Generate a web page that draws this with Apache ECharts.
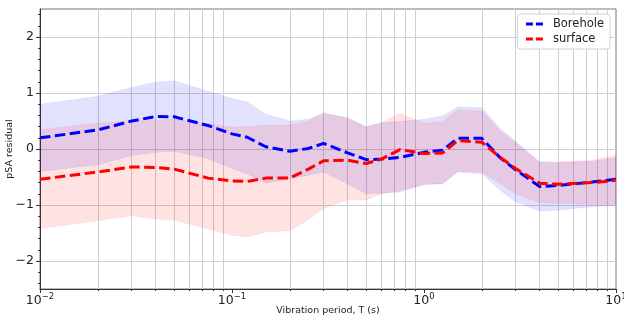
<!DOCTYPE html>
<html><head><meta charset="utf-8">
<script src="https://cdn.jsdelivr.net/npm/echarts@6/dist/echarts.min.js"></script>
<style>html,body{margin:0;padding:0;background:#fff}#c{width:624px;height:320px}</style>
</head><body><div id="c"></div>
<script>
// Vibration periods (s)
const periods = [0.01,0.02,0.03,0.04,0.05,0.075,0.1,0.12,0.15,0.2,0.25,0.3,0.4,0.5,0.6,0.75,1.0,1.25,1.5,2,2.5,3,4,5,7.5,10];
const boreholeMean  = [0.20,0.34,0.50,0.58,0.575,0.42,0.27,0.21,0.04,-0.04,0.01,0.10,-0.07,-0.19,-0.18,-0.15,-0.06,-0.02,0.19,0.19,-0.16,-0.37,-0.67,-0.65,-0.59,-0.54];
const boreholeUpper = [0.80,0.94,1.10,1.19,1.22,1.03,0.90,0.84,0.62,0.50,0.53,0.63,0.56,0.40,0.47,0.49,0.53,0.59,0.75,0.74,0.36,0.14,-0.23,-0.24,-0.22,-0.16];
const boreholeLower = [-0.40,-0.28,-0.12,-0.06,-0.04,-0.17,-0.35,-0.44,-0.61,-0.53,-0.47,-0.41,-0.62,-0.80,-0.79,-0.77,-0.64,-0.62,-0.41,-0.44,-0.74,-0.94,-1.11,-1.09,-1.03,-1.01];
const surfaceMean   = [-0.54,-0.41,-0.32,-0.33,-0.36,-0.52,-0.57,-0.58,-0.52,-0.52,-0.36,-0.21,-0.20,-0.26,-0.18,-0.01,-0.08,-0.07,0.15,0.12,-0.15,-0.35,-0.61,-0.63,-0.60,-0.56];
const surfaceUpper  = [0.35,0.46,0.50,0.52,0.53,0.45,0.39,0.40,0.43,0.43,0.50,0.65,0.55,0.39,0.47,0.64,0.46,0.49,0.70,0.68,0.32,0.11,-0.23,-0.23,-0.20,-0.11];
const surfaceLower  = [-1.42,-1.28,-1.19,-1.25,-1.27,-1.43,-1.54,-1.57,-1.48,-1.46,-1.27,-1.06,-0.91,-0.91,-0.80,-0.74,-0.63,-0.62,-0.40,-0.41,-0.62,-0.80,-0.96,-0.97,-0.99,-0.99];
const yTicks = [-2,-1,0,1,2];

const lx = periods.map(p => Math.log10(p));
const pair = arr => arr.map((v,i) => [lx[i], v]);
const minorX = [];
for (let d = -2; d < 1; d++) for (let k = 2; k <= 9; k++) minorX.push(d + Math.log10(k));
const minorY = [];
for (let i = -12; i <= 12; i++) minorY.push(i / 5);

const FONT = 'DejaVu Sans';
const minus = s => String(s).replace('-', '\u2212');
const BLUE = '#0000ff', RED = '#ff0000';

function band(name, upper, lower, fill, edge) {
  return {
    name: name, type: 'custom', silent: true, z: 1, clip: true,
    data: lx.map((x, i) => [x, lower[i], upper[i]]),
    encode: { x: 0, y: [1, 2] },
    renderItem: function (params, api) {
      if (params.dataIndex !== 0) return null;
      const n = lx.length;
      const pts = [];
      for (let i = 0; i < n; i++) pts.push(api.coord([api.value(0, i), api.value(2, i)]));
      for (let i = n - 1; i >= 0; i--) pts.push(api.coord([api.value(0, i), api.value(1, i)]));
      return { type: 'polygon', shape: { points: pts }, style: { fill: fill, stroke: edge, lineWidth: 0.8 } };
    }
  };
}

const chart = echarts.init(document.getElementById('c'), null, { renderer: 'canvas' });
chart.setOption({
  animation: false,
  textStyle: { fontFamily: FONT },
  grid: { left: 40, right: 8, top: 9, bottom: 31, show: true, borderColor: '#777', borderWidth: 1, outerBoundsMode: 'none', containLabel: false },
  legend: {
    data: ['Borehole', 'surface'], orient: 'vertical', right: 14, top: 14,
    padding: [4, 6, 4, 7], itemWidth: 18, itemHeight: 10, itemGap: 3,
    backgroundColor: '#fff', borderColor: '#d0d0d0', borderWidth: 1, borderRadius: 3,
    textStyle: { fontFamily: FONT, fontSize: 11.5, color: '#222', padding: [0, 0, 0, 4] },
    itemStyle: { opacity: 0 },
    lineStyle: { type: [7, 3], width: 3 }
  },
  xAxis: [
    { type: 'value', min: -2, max: 1, interval: 1, position: 'bottom',
      name: 'Vibration period, T (s)', nameLocation: 'middle', nameGap: 17, nameMoveOverlap: false,
      nameTextStyle: { fontFamily: FONT, fontSize: 9.5, color: '#222' },
      axisLine: { onZero: false, lineStyle: { color: '#333', width: 1 } },
      axisTick: { length: 4, lineStyle: { color: '#333' } },
      splitLine: { show: false },
      axisLabel: { margin: 3, color: '#222',
        formatter: v => '{b|10}{s|' + minus(Math.round(v)) + '}',
        rich: { b: { fontFamily: FONT, fontSize: 12.5, lineHeight: 15, verticalAlign: 'bottom', color: '#222' },
                s: { fontFamily: FONT, fontSize: 8.5, lineHeight: 15, verticalAlign: 'top', color: '#222' } } } },
    { type: 'value', min: -2, max: 1, position: 'bottom',
      axisLine: { show: false, onZero: false }, axisLabel: { show: false },
      axisTick: { show: true, customValues: minorX, length: 2, lineStyle: { color: '#333' } },
      splitLine: { show: true, lineStyle: { color: '#cfcfcf', width: 1 } } }
  ],
  yAxis: [
    { type: 'value', min: -2.5, max: 2.5,
      name: 'pSA residual', nameLocation: 'middle', nameGap: 25, nameMoveOverlap: false,
      nameTextStyle: { fontFamily: FONT, fontSize: 9.5, color: '#222' },
      axisLine: { show: true, onZero: false, lineStyle: { color: '#333', width: 1 } },
      axisTick: { show: true, customValues: yTicks, length: 4, lineStyle: { color: '#333' } },
      axisLabel: { customValues: yTicks, margin: 6, fontFamily: FONT, fontSize: 12.5, color: '#222', formatter: v => minus(v) },
      splitLine: { show: true, lineStyle: { color: '#cfcfcf', width: 1 } } },
    { type: 'value', min: -2.5, max: 2.5, position: 'left',
      axisLine: { show: false, onZero: false }, axisLabel: { show: false }, splitLine: { show: false },
      axisTick: { show: true, customValues: minorY, length: 2, lineStyle: { color: '#333' } } }
  ],
  series: [
    band('bb', boreholeUpper, boreholeLower, 'rgba(0,0,255,0.115)', 'rgba(0,0,255,0.08)'),
    band('sb', surfaceUpper, surfaceLower, 'rgba(255,0,0,0.115)', 'rgba(255,0,0,0.08)'),
    { name: 'Borehole', type: 'line', data: pair(boreholeMean), symbol: 'none', z: 5,
      itemStyle: { color: BLUE }, lineStyle: { color: BLUE, width: 3, type: [10.5, 4.5] } },
    { name: 'surface', type: 'line', data: pair(surfaceMean), symbol: 'none', z: 6,
      itemStyle: { color: RED }, lineStyle: { color: RED, width: 3, type: [10.5, 4.5] } }
  ]
});
</script></body></html>
